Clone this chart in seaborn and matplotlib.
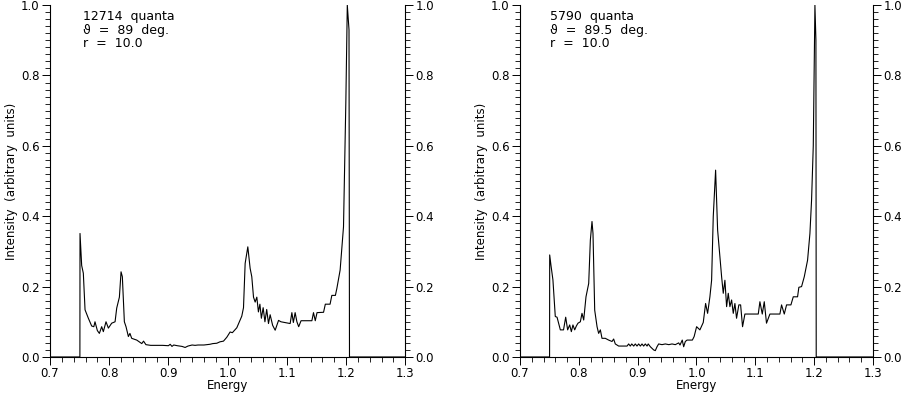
import matplotlib
matplotlib.use("Agg")
import pandas as pd
import seaborn as sns
import matplotlib.pyplot as plt
from matplotlib.ticker import MultipleLocator

# left spectrum: 12714 quanta, theta = 89 deg
energy_a = [0.700, 0.7505, 0.7507, 0.7535, 0.7563, 0.7592, 0.7648, 0.7704, 0.7740, 0.7760,
            0.7800, 0.7834, 0.7873, 0.7901, 0.7946, 0.7986, 0.8042, 0.8099, 0.8127, 0.8172,
            0.8200, 0.8222, 0.8256, 0.8284, 0.8324, 0.8350, 0.8380, 0.8430, 0.8465, 0.8550,
            0.8580, 0.8620, 0.8700, 0.8900, 0.9000, 0.9030, 0.9060, 0.9090, 0.9150, 0.9230,
            0.9282, 0.9330, 0.9400, 0.9450, 0.9500, 0.9600, 0.9700, 0.9750, 0.9817, 0.9870,
            0.9930, 0.9986, 1.0042, 1.0080, 1.0155, 1.0239, 1.0268, 1.0296, 1.0341, 1.0380,
            1.0408, 1.0437, 1.0465, 1.0493, 1.0520, 1.0545, 1.0570, 1.0600, 1.0630, 1.0660,
            1.0690, 1.0718, 1.0760, 1.0803, 1.0860, 1.0900, 1.1056, 1.1085, 1.1110, 1.1140,
            1.1170, 1.1200, 1.1240, 1.1423, 1.1450, 1.1480, 1.1510, 1.1620, 1.1650, 1.1730,
            1.1760, 1.1820, 1.1845, 1.1900, 1.1957, 1.1997, 1.2021, 1.2050, 1.2058, 1.300]
inten_a = [0.0, 0.0, 0.351, 0.260, 0.238, 0.134, 0.110, 0.088, 0.086, 0.100,
           0.075, 0.067, 0.086, 0.072, 0.100, 0.082, 0.096, 0.100, 0.139, 0.170,
           0.242, 0.228, 0.100, 0.086, 0.058, 0.067, 0.053, 0.050, 0.048, 0.038,
           0.045, 0.035, 0.033, 0.033, 0.032, 0.036, 0.030, 0.034, 0.032, 0.030,
           0.027, 0.031, 0.034, 0.033, 0.034, 0.034, 0.036, 0.038, 0.039, 0.043,
           0.045, 0.056, 0.071, 0.069, 0.083, 0.116, 0.140, 0.266, 0.313, 0.252,
           0.228, 0.170, 0.156, 0.170, 0.128, 0.150, 0.110, 0.140, 0.100, 0.135,
           0.095, 0.120, 0.090, 0.076, 0.104, 0.100, 0.095, 0.126, 0.098, 0.126,
           0.100, 0.086, 0.103, 0.103, 0.126, 0.103, 0.126, 0.127, 0.150, 0.150,
           0.175, 0.175, 0.195, 0.247, 0.370, 0.730, 1.000, 0.930, 0.0, 0.0]

# right spectrum: 5790 quanta, theta = 89.5 deg
energy_b = [0.700, 0.7503, 0.7505, 0.7527, 0.7560, 0.7600, 0.7630, 0.7686, 0.7740, 0.7777,
            0.7810, 0.7845, 0.7873, 0.7900, 0.7930, 0.7958, 0.7986, 0.8026, 0.8054, 0.8083,
            0.8122, 0.8168, 0.8196, 0.8224, 0.8241, 0.8270, 0.8310, 0.8337, 0.8366, 0.8394,
            0.8450, 0.8507, 0.8564, 0.8592, 0.8620, 0.8677, 0.8820, 0.8847, 0.8875, 0.8900,
            0.8933, 0.8960, 0.8989, 0.9017, 0.9046, 0.9074, 0.9102, 0.9130, 0.9160, 0.9180,
            0.9216, 0.9272, 0.9300, 0.9329, 0.9357, 0.9414, 0.9470, 0.9530, 0.9584, 0.9640,
            0.9697, 0.9720, 0.9758, 0.9782, 0.9810, 0.9840, 0.9870, 0.9930, 0.9960, 1.0002,
            1.0058, 1.0115, 1.0155, 1.0189, 1.0228, 1.0257, 1.0285, 1.0325, 1.0359, 1.0398,
            1.0427, 1.0455, 1.0483, 1.0512, 1.0540, 1.0568, 1.0597, 1.0625, 1.0653, 1.0681,
            1.0720, 1.0750, 1.0783, 1.0823, 1.1050, 1.1078, 1.1118, 1.1152, 1.1190, 1.1248,
            1.1418, 1.1446, 1.1492, 1.1531, 1.1605, 1.1645, 1.1718, 1.1740, 1.1786, 1.1832,
            1.1888, 1.1928, 1.1956, 1.1985, 1.2013, 1.2030, 1.2035, 1.300]
inten_b = [0.0, 0.0, 0.290, 0.260, 0.219, 0.115, 0.113, 0.077, 0.077, 0.113,
           0.077, 0.091, 0.072, 0.091, 0.077, 0.088, 0.096, 0.100, 0.124, 0.105,
           0.171, 0.209, 0.332, 0.385, 0.351, 0.133, 0.086, 0.067, 0.077, 0.053,
           0.053, 0.048, 0.044, 0.051, 0.037, 0.031, 0.031, 0.037, 0.031, 0.037,
           0.031, 0.037, 0.031, 0.037, 0.031, 0.037, 0.031, 0.037, 0.031, 0.037,
           0.029, 0.020, 0.018, 0.029, 0.037, 0.035, 0.037, 0.035, 0.037, 0.035,
           0.040, 0.034, 0.048, 0.029, 0.044, 0.048, 0.048, 0.048, 0.058, 0.086,
           0.077, 0.098, 0.152, 0.124, 0.171, 0.218, 0.399, 0.531, 0.361, 0.285,
           0.228, 0.181, 0.218, 0.143, 0.181, 0.143, 0.162, 0.124, 0.152, 0.110,
           0.148, 0.148, 0.086, 0.122, 0.122, 0.157, 0.122, 0.157, 0.096, 0.122,
           0.122, 0.148, 0.122, 0.148, 0.148, 0.171, 0.171, 0.198, 0.200, 0.228,
           0.275, 0.351, 0.446, 0.600, 1.000, 0.900, 0.0, 0.0]

labels = [["12714  quanta", "\u03d1  =  89  deg.", "r  =  10.0"],
          ["5790  quanta", "\u03d1  =  89.5  deg.", "r  =  10.0"]]

sns.set_style("ticks")
plt.rcParams["font.family"] = ["DejaVu Sans"]
plt.rcParams.update({"axes.edgecolor": "black", "xtick.color": "black",
                     "ytick.color": "black", "text.color": "black",
                     "axes.labelcolor": "black"})

fig = plt.figure(figsize=(9.04, 3.94), dpi=100)
ax1 = fig.add_axes([0.0553, 0.094, 0.393, 0.893])
ax2 = fig.add_axes([0.5752, 0.094, 0.3905, 0.893])

panels = [(ax1, energy_a, inten_a, labels[0], 0.093),
          (ax2, energy_b, inten_b, labels[1], 0.085)]

for ax, e, v, txt, tx in panels:
    df = pd.DataFrame({"Energy": e, "Intensity": v})
    sns.lineplot(data=df, x="Energy", y="Intensity", ax=ax, color="black",
                 linewidth=0.8, estimator=None, sort=False)
    ax.set_xlim(0.7, 1.3)
    ax.set_ylim(0.0, 1.0)
    ax.xaxis.set_major_locator(MultipleLocator(0.1))
    ax.xaxis.set_minor_locator(MultipleLocator(0.02))
    ax.yaxis.set_major_locator(MultipleLocator(0.2))
    ax.yaxis.set_minor_locator(MultipleLocator(0.02))
    ax.xaxis.set_major_formatter(plt.FormatStrFormatter("%.1f"))
    ax.yaxis.set_major_formatter(plt.FormatStrFormatter("%.1f"))
    ax.spines["top"].set_visible(False)
    ax.spines["right"].set_visible(True)
    for s in ax.spines.values():
        s.set_linewidth(0.8)
    ax.tick_params(axis="y", which="both", left=True, right=True,
                   labelleft=True, labelright=True, direction="out")
    ax.tick_params(axis="x", which="both", bottom=True, top=False, direction="out")
    ax.tick_params(which="major", length=5.5, width=0.7, labelsize=8.5, pad=2)
    ax.tick_params(which="minor", length=3.5, width=0.6)
    ax.set_xlabel("Energy", fontsize=8.5, labelpad=-1)
    ax.set_ylabel("Intensity  (arbitrary  units)", fontsize=8.5, labelpad=2)
    ax.text(tx, 0.985, "\n".join(txt), transform=ax.transAxes, ha="left", va="top",
            fontsize=9, linespacing=1.05)

fig.savefig("out.png", dpi=100)
